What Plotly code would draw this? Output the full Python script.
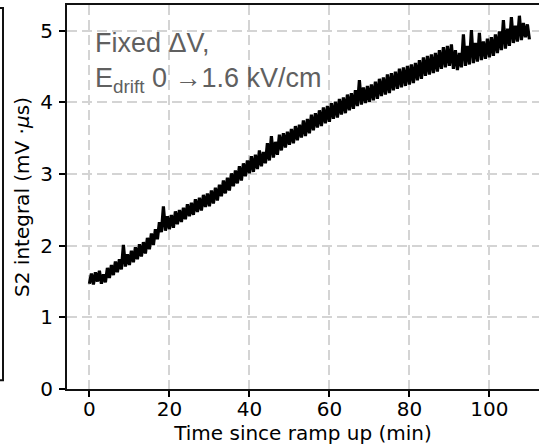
"""S2 integral vs. time since the field ramp-up (fixed ΔV, E_drift 0 → 1.6 kV/cm)."""

from __future__ import annotations

import plotly.graph_objects as go

# --- data (0.5 min sampling) --------------------------------------------------

time_min = [
    0, 0.5, 1, 1.5, 2, 2.5, 3, 3.5, 4, 4.5, 5, 5.5, 6, 6.5, 7, 7.5, 8, 8.5, 9, 9.5,
    10, 10.5, 11, 11.5, 12, 12.5, 13, 13.5, 14, 14.5, 15, 15.5, 16, 16.5, 17, 17.5, 18, 18.5, 19, 19.5,
    20, 20.5, 21, 21.5, 22, 22.5, 23, 23.5, 24, 24.5, 25, 25.5, 26, 26.5, 27, 27.5, 28, 28.5, 29, 29.5,
    30, 30.5, 31, 31.5, 32, 32.5, 33, 33.5, 34, 34.5, 35, 35.5, 36, 36.5, 37, 37.5, 38, 38.5, 39, 39.5,
    40, 40.5, 41, 41.5, 42, 42.5, 43, 43.5, 44, 44.5, 45, 45.5, 46, 46.5, 47, 47.5, 48, 48.5, 49, 49.5,
    50, 50.5, 51, 51.5, 52, 52.5, 53, 53.5, 54, 54.5, 55, 55.5, 56, 56.5, 57, 57.5, 58, 58.5, 59, 59.5,
    60, 60.5, 61, 61.5, 62, 62.5, 63, 63.5, 64, 64.5, 65, 65.5, 66, 66.5, 67, 67.5, 68, 68.5, 69, 69.5,
    70, 70.5, 71, 71.5, 72, 72.5, 73, 73.5, 74, 74.5, 75, 75.5, 76, 76.5, 77, 77.5, 78, 78.5, 79, 79.5,
    80, 80.5, 81, 81.5, 82, 82.5, 83, 83.5, 84, 84.5, 85, 85.5, 86, 86.5, 87, 87.5, 88, 88.5, 89, 89.5,
    90, 90.5, 91, 91.5, 92, 92.5, 93, 93.5, 94, 94.5, 95, 95.5, 96, 96.5, 97, 97.5, 98, 98.5, 99, 99.5,
    100, 100.5, 101, 101.5, 102, 102.5, 103, 103.5, 104, 104.5, 105, 105.5, 106, 106.5, 107, 107.5,
    108, 108.5, 109, 109.5, 110,
]

s2_integral = [
    1.47, 1.61, 1.46, 1.63, 1.50, 1.65, 1.47, 1.60, 1.49, 1.69, 1.55, 1.73, 1.59, 1.78, 1.63, 1.81, 1.67, 2.01, 1.71, 1.88,
    1.73, 1.93, 1.77, 1.98, 1.81, 2.02, 1.85, 2.05, 1.89, 2.11, 1.95, 2.17, 2.01, 2.23, 2.09, 2.33, 2.19, 2.55, 2.21, 2.41,
    2.23, 2.43, 2.25, 2.48, 2.30, 2.50, 2.33, 2.53, 2.37, 2.58, 2.41, 2.60, 2.43, 2.65, 2.47, 2.67, 2.49, 2.71, 2.54, 2.73,
    2.55, 2.77, 2.59, 2.81, 2.63, 2.85, 2.69, 2.91, 2.73, 2.95, 2.77, 3.01, 2.83, 3.05, 2.87, 3.11, 2.91, 3.15, 2.97, 3.19,
    3.01, 3.25, 3.03, 3.27, 3.07, 3.33, 3.11, 3.31, 3.15, 3.43, 3.19, 3.53, 3.23, 3.45, 3.27, 3.55, 3.33, 3.57, 3.37, 3.59,
    3.41, 3.63, 3.43, 3.67, 3.47, 3.69, 3.51, 3.75, 3.53, 3.77, 3.57, 3.83, 3.61, 3.85, 3.65, 3.89, 3.67, 3.93, 3.71, 3.95,
    3.73, 3.99, 3.77, 4.01, 3.79, 4.05, 3.83, 4.07, 3.85, 4.11, 3.89, 4.13, 3.91, 4.17, 3.95, 4.31, 3.97, 4.21, 3.99, 4.23,
    4.01, 4.25, 4.03, 4.29, 4.05, 4.33, 4.09, 4.35, 4.11, 4.39, 4.13, 4.41, 4.17, 4.43, 4.19, 4.47, 4.21, 4.49, 4.23, 4.51,
    4.25, 4.53, 4.27, 4.55, 4.31, 4.59, 4.33, 4.63, 4.37, 4.65, 4.39, 4.67, 4.41, 4.69, 4.43, 4.73, 4.47, 4.77, 4.49, 4.79,
    4.51, 4.81, 4.47, 4.73, 4.45, 4.69, 4.49, 4.95, 4.51, 4.79, 4.53, 5.01, 4.55, 4.83, 4.57, 4.97, 4.59, 4.85, 4.61, 4.89,
    4.63, 4.91, 4.65, 4.95, 4.69, 4.99, 4.73, 5.15, 4.75, 5.03, 4.79, 5.19, 4.83, 5.07, 4.85, 5.21,
    4.87, 5.11, 4.91, 5.09, 4.88,
]

x_ticks = [0, 20, 40, 60, 80, 100]
y_ticks = [0, 1, 2, 3, 4, 5]

TICK_FONT = dict(family="DejaVu Sans", size=20, color="black")
NOTE_FONT = dict(family="Liberation Sans, Arial", size=27, color="#606060")
GRID = dict(showgrid=True, gridcolor="#d4d4d4", gridwidth=1.6, griddash="10px,5px")


def axis_style(ticks: list[int], label_gap: int) -> dict:
    """Matplotlib-like axis: dark spine, outward ticks, dashed grey grid."""
    return dict(
        tickmode="array", tickvals=ticks, ticks="outside", ticklen=6, tickwidth=1.5,
        tickcolor="black", tickfont=TICK_FONT, showline=True, linecolor="#111111",
        linewidth=2, zeroline=False, ticklabelstandoff=label_gap, automargin=False, **GRID,
    )


fig = go.Figure()
fig.add_trace(go.Scatter(
    x=time_min, y=s2_integral, mode="lines",
    line=dict(color="black", width=3.2), showlegend=False,
))

fig.update_layout(
    width=539, height=448,
    margin=dict(l=67, r=0, t=5, b=59, autoexpand=False),
    paper_bgcolor="white", plot_bgcolor="white",
    xaxis=dict(
        range=[-5.6, 112.4], mirror=True,
        title=dict(text="Time since ramp up (min)", font=TICK_FONT, standoff=5),
        **axis_style(x_ticks, -5),
    ),
    yaxis=dict(
        range=[0, 5.36],
        title=dict(text="S2 integral (mV ·<i>μ</i>s)", font=TICK_FONT, standoff=5),
        **axis_style(y_ticks, 2),
    ),
)

# edge of the neighbouring panel, cut off at the left of the picture
fig.add_shape(
    type="path", xref="paper", yref="paper",
    path="M -0.16 0.992 L -0.1356 0.992 L -0.1356 0.023 L -0.16 0.023",
    line=dict(color="#111111", width=2),
)

fig.add_annotation(
    x=0.8, y=5.06, xref="x", yref="y", xanchor="left", yanchor="top",
    align="left", showarrow=False, font=NOTE_FONT,
    text="Fixed ΔV,<br>E<sub>drift</sub> 0 →1.6 kV/cm",
)

# the page's default body margin would push the figure 8 px off the window
fig.write_html(
    "out.html",
    config={"displayModeBar": False},
    post_script="document.body.style.margin = '0';",
)
